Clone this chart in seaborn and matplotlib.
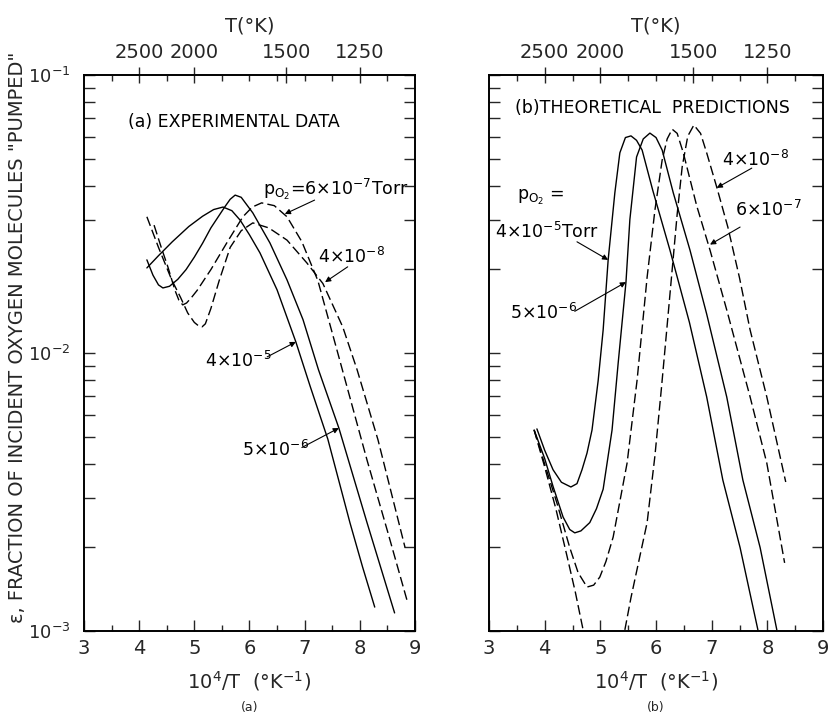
import numpy as np
import pandas as pd
import matplotlib
matplotlib.use('Agg')
import matplotlib.pyplot as plt
import seaborn as sns

# values: x = 10^4/T, lg = log10(epsilon)
# (a) experimental data
a_x_4e5 = [4.14, 4.35, 4.6, 4.9, 5.15, 5.35, 5.52, 5.68, 5.83, 6.0, 6.19, 6.5, 6.84, 7.1, 7.42, 7.82, 8.05, 8.27]
a_lg_4e5 = [-1.694, -1.65, -1.60, -1.545, -1.508, -1.484, -1.475, -1.488, -1.522, -1.575, -1.64, -1.773, -1.96, -2.12, -2.31, -2.61, -2.77, -2.914]

a_x_5e6 = [4.14, 4.25, 4.35, 4.43, 4.55, 4.7, 4.85, 5.0, 5.15, 5.3, 5.45, 5.55, 5.65, 5.74, 5.85, 6.06, 6.37, 6.68, 6.97, 7.25, 7.62, 8.13, 8.63]
a_lg_5e6 = [-1.665, -1.72, -1.755, -1.766, -1.76, -1.735, -1.70, -1.655, -1.605, -1.55, -1.505, -1.475, -1.447, -1.432, -1.44, -1.496, -1.604, -1.737, -1.88, -2.06, -2.27, -2.61, -2.935]

a_x_6e7 = [4.27, 4.4, 4.52, 4.65, 4.72, 4.79, 4.86, 4.95, 5.05, 5.3, 5.6, 5.88, 6.05, 6.22, 6.45, 6.68, 6.95, 7.24, 7.6, 8.13, 8.5, 8.87]
a_lg_6e7 = [-1.54, -1.62, -1.69, -1.775, -1.81, -1.827, -1.82, -1.80, -1.775, -1.70, -1.60, -1.51, -1.475, -1.46, -1.47, -1.51, -1.60, -1.74, -2.0, -2.385, -2.64, -2.90]

a_x_4e8 = [4.14, 4.35, 4.59, 4.75, 4.88, 5.0, 5.08, 5.14, 5.2, 5.3, 5.45, 5.65, 5.85, 6.06, 6.35, 6.68, 7.04, 7.33, 7.69, 7.95, 8.33, 8.82]
a_lg_4e8 = [-1.51, -1.62, -1.737, -1.80, -1.856, -1.89, -1.903, -1.906, -1.895, -1.84, -1.74, -1.62, -1.56, -1.532, -1.55, -1.594, -1.676, -1.75, -1.906, -2.06, -2.313, -2.70]

# (b) theoretical predictions
b_x_4e5 = [3.86, 4.0, 4.15, 4.3, 4.47, 4.58, 4.67, 4.76, 4.85, 4.96, 5.05, 5.14, 5.26, 5.35, 5.45, 5.55, 5.65, 5.75, 5.94, 6.25, 6.6, 6.91, 7.2, 7.51, 7.83]
b_lg_4e5 = [-2.273, -2.35, -2.42, -2.465, -2.482, -2.47, -2.42, -2.36, -2.277, -2.10, -1.917, -1.665, -1.424, -1.28, -1.225, -1.219, -1.235, -1.27, -1.414, -1.63, -1.89, -2.158, -2.457, -2.70, -2.996]

b_x_5e6 = [3.81, 4.0, 4.15, 4.33, 4.45, 4.54, 4.65, 4.81, 4.93, 5.05, 5.21, 5.32, 5.46, 5.53, 5.65, 5.77, 5.89, 6.0, 6.11, 6.31, 6.61, 6.91, 7.27, 7.56, 7.87, 8.17]
b_lg_5e6 = [-2.277, -2.38, -2.48, -2.59, -2.635, -2.647, -2.64, -2.61, -2.56, -2.49, -2.277, -2.036, -1.745, -1.52, -1.295, -1.23, -1.209, -1.225, -1.27, -1.424, -1.63, -1.86, -2.158, -2.457, -2.70, -2.996]

b_x_6e7 = [3.81, 4.0, 4.22, 4.45, 4.6, 4.76, 4.88, 4.99, 5.1, 5.23, 5.48, 5.66, 5.84, 5.98, 6.11, 6.2, 6.29, 6.38, 6.49, 6.73, 6.97, 7.27, 7.69, 7.99, 8.31]
b_lg_6e7 = [-2.277, -2.40, -2.54, -2.70, -2.79, -2.842, -2.835, -2.806, -2.75, -2.662, -2.396, -2.097, -1.727, -1.486, -1.306, -1.23, -1.195, -1.21, -1.28, -1.47, -1.63, -1.845, -2.158, -2.396, -2.755]

# 4e-8 dips below 10^-3, so it is read as two visible pieces
b_x_4e8_lo = [3.81, 4.0, 4.2, 4.4, 4.55, 4.69]
b_lg_4e8_lo = [-2.277, -2.41, -2.56, -2.73, -2.86, -2.996]
b_x_4e8_hi = [5.44, 5.55, 5.7, 5.84, 5.98, 6.1, 6.2, 6.29, 6.38, 6.47, 6.57, 6.68, 6.8, 6.91, 7.09, 7.29, 7.5, 7.69, 7.99, 8.33]
b_lg_4e8_hi = [-2.996, -2.88, -2.74, -2.61, -2.37, -2.12, -1.9, -1.70, -1.50, -1.33, -1.22, -1.18, -1.21, -1.28, -1.403, -1.547, -1.73, -1.917, -2.158, -2.464]

temps = [2500, 2000, 1500, 1250]

sns.set_theme(style='white')
plt.rcParams['font.family'] = ['DejaVu Sans']
plt.rcParams['mathtext.fontset'] = 'dejavusans'
plt.rcParams['axes.edgecolor'] = 'black'
plt.rcParams['axes.linewidth'] = 1.2

fig = plt.figure(figsize=(8.3, 7.15), dpi=100)
ax_a = fig.add_axes([0.1012, 0.1175, 0.3988, 0.7776])
ax_b = fig.add_axes([0.5892, 0.1175, 0.4024, 0.7776])

curves = {
    ax_a: [(a_x_4e5, a_lg_4e5, False), (a_x_5e6, a_lg_5e6, False),
           (a_x_6e7, a_lg_6e7, True), (a_x_4e8, a_lg_4e8, True)],
    ax_b: [(b_x_4e5, b_lg_4e5, False), (b_x_5e6, b_lg_5e6, False),
           (b_x_6e7, b_lg_6e7, True), (b_x_4e8_lo, b_lg_4e8_lo, True),
           (b_x_4e8_hi, b_lg_4e8_hi, True)],
}

for ax, lines in curves.items():
    for xs, lgs, dashed in lines:
        df = pd.DataFrame({'x': xs, 'eps': 10 ** np.array(lgs)})
        sns.lineplot(data=df, x='x', y='eps', ax=ax, color='black', lw=1.0,
                     sort=False, estimator=None)
        if dashed:
            ax.lines[-1].set_dashes((7, 3))

    ax.set_yscale('log')
    ax.set_xlim(3, 9)
    ax.set_ylim(1e-3, 1e-1)
    ax.set_xticks(range(3, 10))
    ax.set_xticks(np.arange(3.5, 9, 1.0), minor=True)
    ax.set_xlabel(r'$10^4$/T  (°K$^{-1}$)', fontsize=14, labelpad=8)
    ax.set_ylabel('')
    ax.tick_params(axis='x', which='both', direction='in', top=False, labelsize=14, pad=6)
    ax.tick_params(axis='x', which='major', length=8, width=1)
    ax.tick_params(axis='x', which='minor', length=4, width=1)
    ax.tick_params(axis='y', which='both', direction='in', left=True, right=True,
                   length=8, width=1, labelsize=13, pad=10)
    ax.yaxis.set_minor_locator(matplotlib.ticker.LogLocator(base=10, subs=np.arange(2, 10)))
    ax.yaxis.set_minor_formatter(matplotlib.ticker.NullFormatter())
    for s in ax.spines.values():
        s.set_visible(True)
        s.set_color('black')

    top = ax.twiny()
    top.set_xlim(3, 9)
    top.set_xticks([1e4 / t for t in temps])
    top.set_xticklabels([str(t) for t in temps])
    top.set_xticks([3.5, 4.5, 5.5, 6, 6.5, 7, 7.5, 8.5], minor=True)
    top.tick_params(axis='x', which='major', direction='inout', length=11, width=1, labelsize=14, pad=4)
    top.tick_params(axis='x', which='minor', direction='in', length=4, width=1)
    top.set_xlabel('T(°K)', fontsize=14, labelpad=8)
    for s in top.spines.values():
        s.set_color('black')

ax_b.tick_params(axis='y', which='both', labelleft=False)

po2 = r'p$_{\mathrm{O_2}}$'

# panel (a) annotations
kw = dict(fontsize=12.5, color='black')
arrow = dict(arrowstyle='-|>', lw=0.8, color='black', mutation_scale=8, shrinkA=0, shrinkB=0)
ax_a.text(3.8, 10 ** -1.17, '(a) EXPERIMENTAL DATA', va='center', **kw)
ax_a.text(6.24, 10 ** -1.41, po2 + r'=6$\times$10$^{-7}$Torr', va='center', **kw)
ax_a.annotate('', xy=(6.64, 10 ** -1.50), xytext=(7.18, 10 ** -1.45), arrowprops=arrow)
ax_a.text(7.24, 10 ** -1.655, r'4$\times$10$^{-8}$', va='center', **kw)
ax_a.annotate('', xy=(7.37, 10 ** -1.745), xytext=(7.78, 10 ** -1.69), arrowprops=arrow)
ax_a.text(5.19, 10 ** -2.03, r'4$\times$10$^{-5}$', va='center', **kw)
ax_a.annotate('', xy=(6.84, 10 ** -1.96), xytext=(6.32, 10 ** -2.014), arrowprops=arrow)
ax_a.text(5.86, 10 ** -2.35, r'5$\times$10$^{-6}$', va='center', **kw)
ax_a.annotate('', xy=(7.62, 10 ** -2.27), xytext=(6.95, 10 ** -2.34), arrowprops=arrow)

# panel (b) annotations
ax_b.text(3.47, 10 ** -1.12, '(b)THEORETICAL  PREDICTIONS', va='center', **kw)
ax_b.text(3.5, 10 ** -1.44, po2 + ' =', va='center', **kw)
ax_b.text(3.1, 10 ** -1.565, r'4$\times$10$^{-5}$Torr', va='center', **kw)
ax_b.annotate('', xy=(5.14, 10 ** -1.665), xytext=(4.58, 10 ** -1.60), arrowprops=arrow)
ax_b.text(3.38, 10 ** -1.856, r'5$\times$10$^{-6}$', va='center', **kw)
ax_b.annotate('', xy=(5.46, 10 ** -1.745), xytext=(4.54, 10 ** -1.85), arrowprops=arrow)
ax_b.text(7.18, 10 ** -1.306, r'4$\times$10$^{-8}$', va='center', **kw)
ax_b.annotate('', xy=(7.09, 10 ** -1.406), xytext=(7.72, 10 ** -1.335), arrowprops=arrow)
ax_b.text(7.42, 10 ** -1.486, r'6$\times$10$^{-7}$', va='center', **kw)
ax_b.annotate('', xy=(6.97, 10 ** -1.61), xytext=(7.51, 10 ** -1.547), arrowprops=arrow)

fig.text(18 / 830, 1 - 337 / 715, 'ε, FRACTION OF INCIDENT OXYGEN MOLECULES "PUMPED"',
         rotation=90, ha='center', va='center', fontsize=14)
fig.text(250 / 830, 1 - 708 / 715, '(a)', ha='center', va='center', fontsize=9)
fig.text(656 / 830, 1 - 708 / 715, '(b)', ha='center', va='center', fontsize=9)

fig.savefig('out.png', dpi=100)
